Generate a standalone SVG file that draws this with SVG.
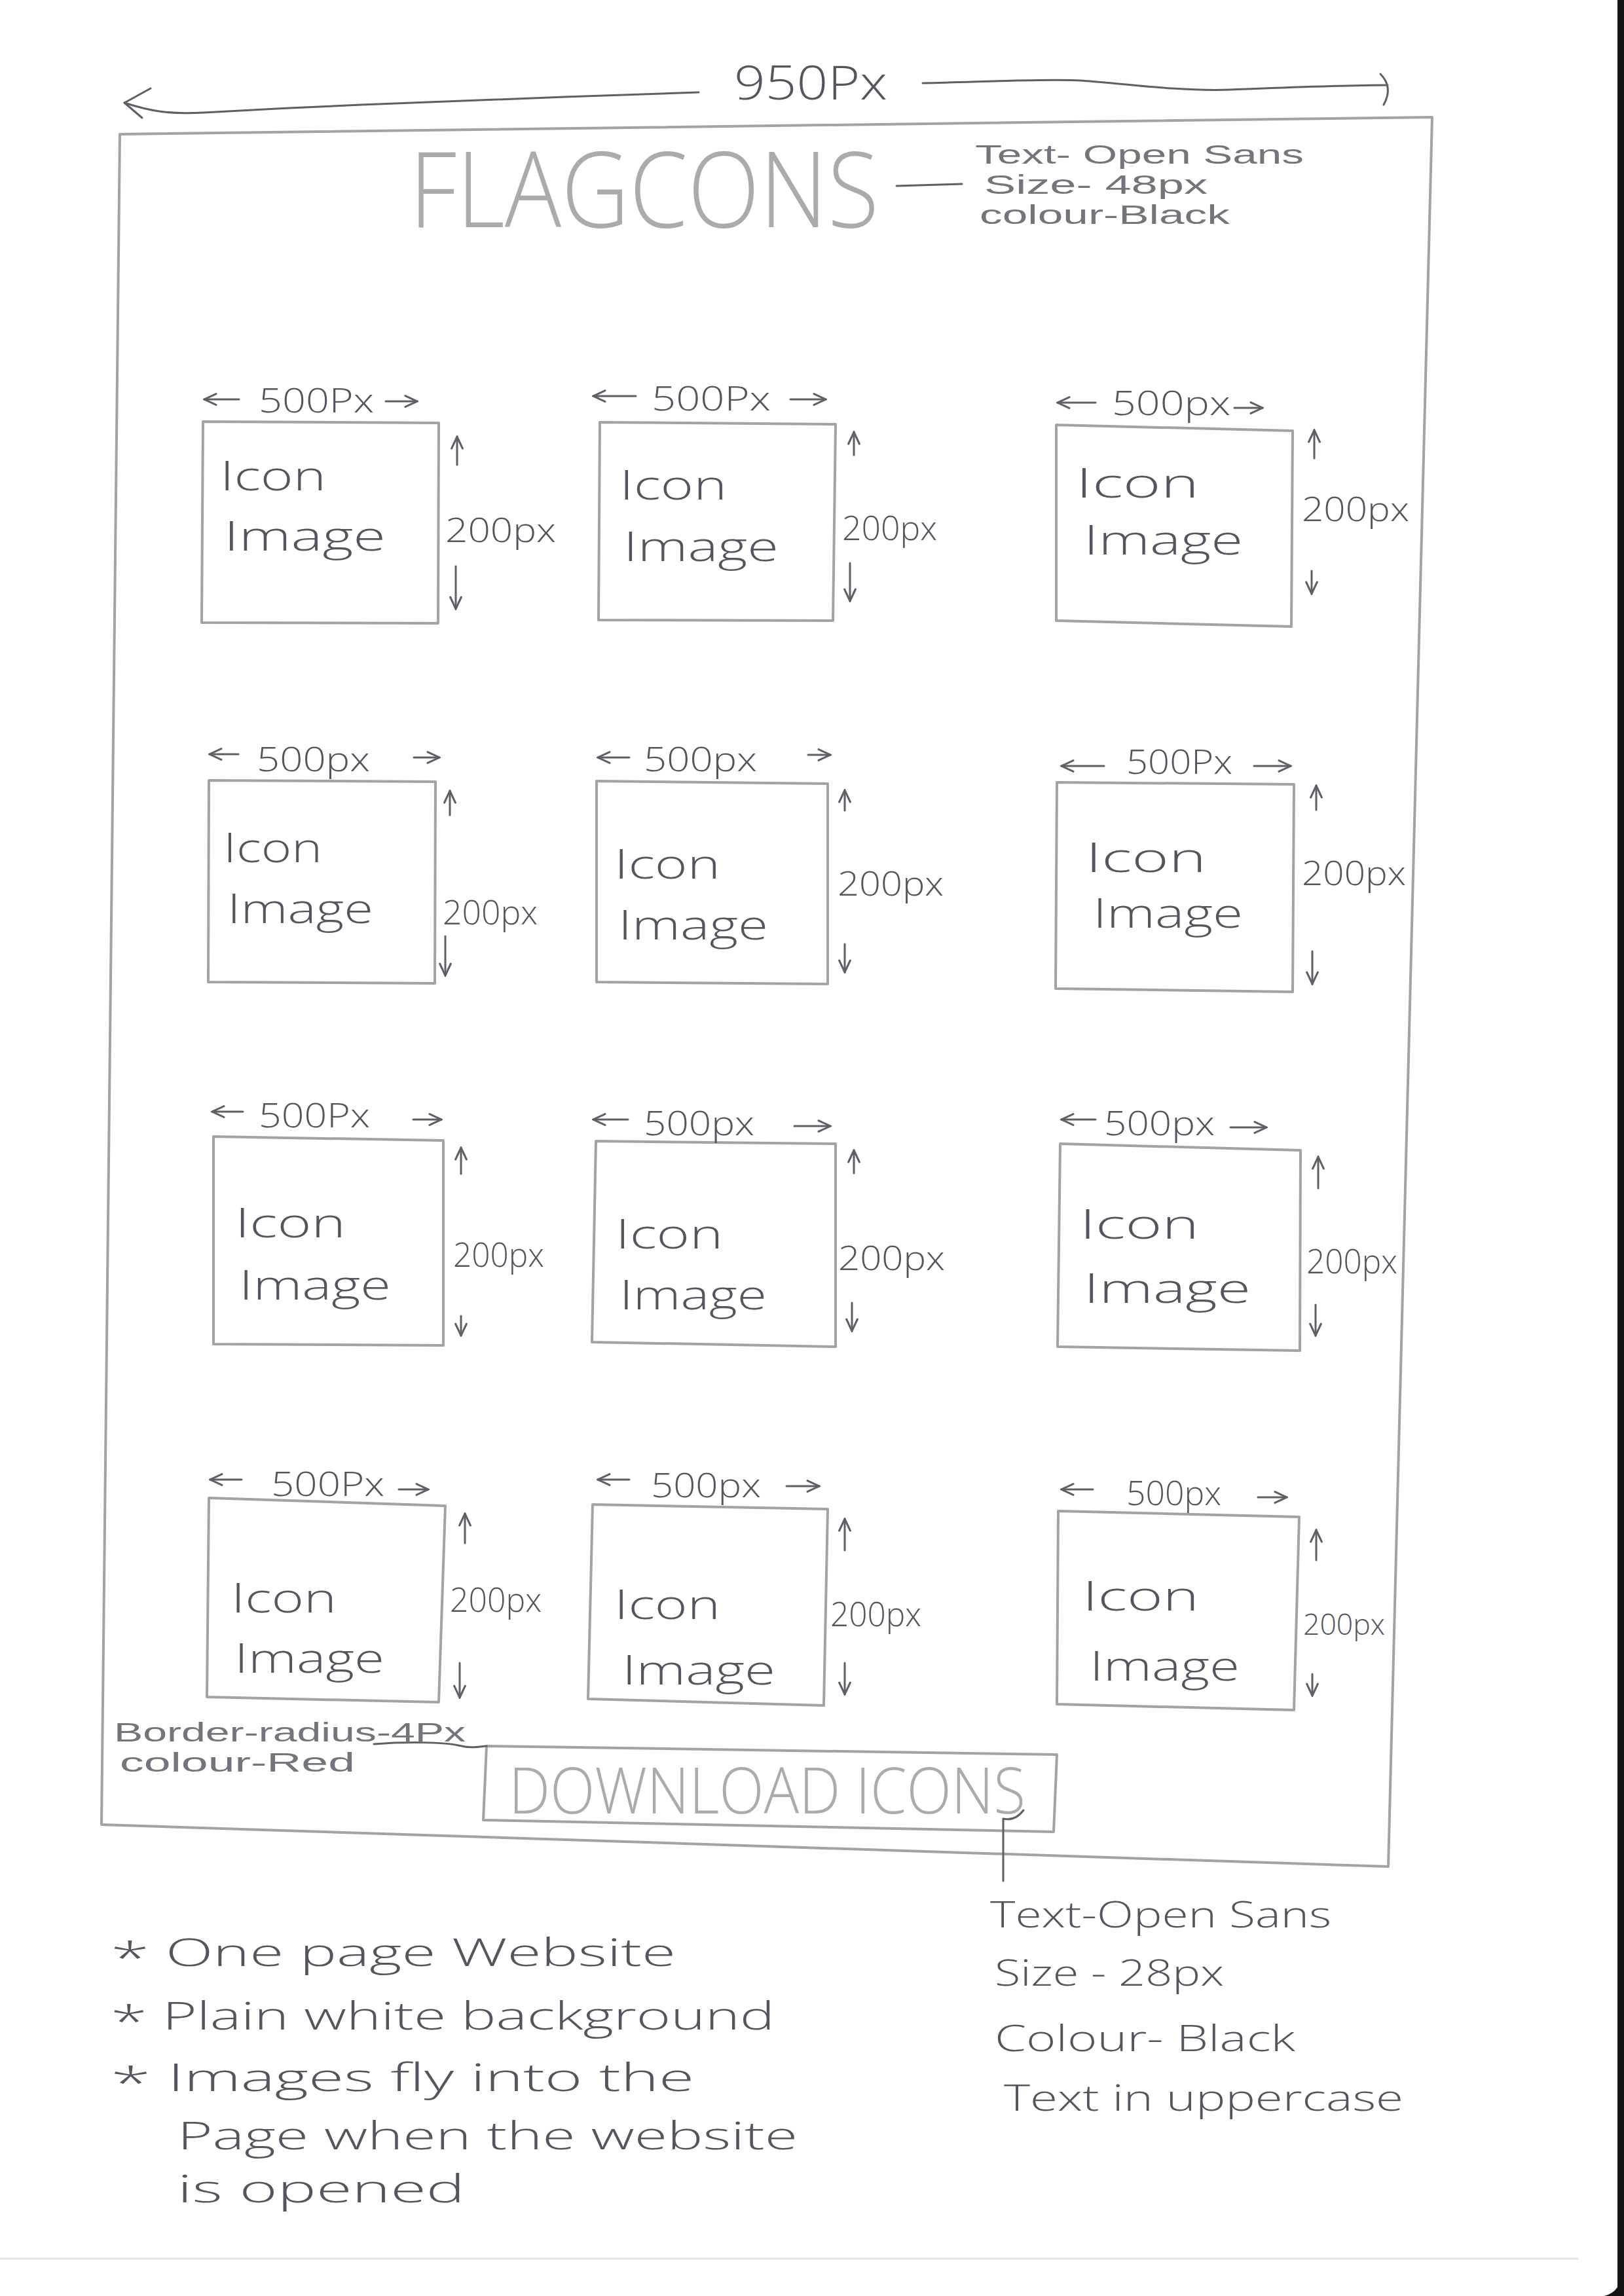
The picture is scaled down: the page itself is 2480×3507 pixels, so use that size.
<svg xmlns="http://www.w3.org/2000/svg" width="2480" height="3507" viewBox="0 0 2480 3507">
<style>
.t{font-family:"Open Sans","Liberation Sans",sans-serif;fill:#55555f;font-weight:300}
.ls{font-family:"Liberation Sans","Open Sans",sans-serif;font-weight:normal;fill:#74747c}
.big{fill:#ababab;font-weight:300}
.lbl{font-size:62px}
.dim{font-size:52px}
.note{font-size:58px}
.box{fill:none;stroke:#a3a3a3;stroke-width:4;stroke-linejoin:round}
.ln{fill:none;stroke:#5f5f68;stroke-width:3;stroke-linecap:round;stroke-linejoin:round}
.arr{marker-end:url(#ah)}
</style>
<defs>
<marker id="ah" viewBox="0 0 20 20" refX="18" refY="10" markerWidth="24" markerHeight="24" markerUnits="userSpaceOnUse" orient="auto">
<path d="M3,3 L18,10 L3,17" fill="none" stroke="#5f5f68" stroke-width="2.5" stroke-linecap="round"/>
</marker>
</defs>
<rect width="2480" height="3507" fill="#ffffff"/>
<g id="paper-edge">
<rect x="2470" y="0" width="10" height="3507" fill="#141414"/>
<path d="M2476,3470 Q2476,3500 2450,3507 L2480,3507 L2480,3470 Z" fill="#141414"/>
<line x1="0" y1="3450" x2="2410" y2="3450" stroke="#e4e4e4" stroke-width="3"/>
</g>
<g id="page-frame">
<path class="box" d="M183,205 L2187,179 L2120,2851 L155,2787 Z" stroke="#9c9c9c"/>
</g>
<g id="width-label">
<text class="t" x="1121" y="152" font-size="72" textLength="234" lengthAdjust="spacingAndGlyphs">950Px</text>
</g>
<g id="title">
<text class="t big" x="625" y="347" font-size="160" textLength="717" lengthAdjust="spacingAndGlyphs">FLAGCONS</text>
</g>
<g id="title-note">
<text class="ls" x="1489" y="250" font-size="41" textLength="502" lengthAdjust="spacingAndGlyphs">Text- Open Sans</text>
<text class="ls" x="1503" y="296" font-size="41" textLength="341" lengthAdjust="spacingAndGlyphs">Size- 48px</text>
<text class="ls" x="1496" y="342" font-size="41" textLength="382" lengthAdjust="spacingAndGlyphs">colour-Black</text>
</g>
<g id="box1">
<path class="box" d="M310,644 L670,646 L669,952 L308,951 Z"/>
<text class="t lbl" x="336" y="749" textLength="162" lengthAdjust="spacingAndGlyphs">Icon</text>
<text class="t lbl" x="342" y="841" textLength="247" lengthAdjust="spacingAndGlyphs">Image</text>
<text class="t dim" x="395" y="630" textLength="176" lengthAdjust="spacingAndGlyphs">500Px</text>
<text class="t dim" x="680" y="828" textLength="169" lengthAdjust="spacingAndGlyphs">200px</text>
</g>
<g id="box2">
<path class="box" d="M916,645 L1276,648 L1272,948 L914,947 Z"/>
<text class="t lbl" x="946" y="763" textLength="164" lengthAdjust="spacingAndGlyphs">Icon</text>
<text class="t lbl" x="952" y="857" textLength="237" lengthAdjust="spacingAndGlyphs">Image</text>
<text class="t dim" x="995" y="627" textLength="182" lengthAdjust="spacingAndGlyphs">500Px</text>
<text class="t dim" x="1286" y="825" textLength="145" lengthAdjust="spacingAndGlyphs">200px</text>
</g>
<g id="box3">
<path class="box" d="M1613,649 L1974,658 L1972,957 L1613,948 Z"/>
<text class="t lbl" x="1643" y="760" textLength="188" lengthAdjust="spacingAndGlyphs">Icon</text>
<text class="t lbl" x="1655" y="847" textLength="243" lengthAdjust="spacingAndGlyphs">Image</text>
<text class="t dim" x="1698" y="634" textLength="181" lengthAdjust="spacingAndGlyphs">500px</text>
<text class="t dim" x="1988" y="796" textLength="164" lengthAdjust="spacingAndGlyphs">200px</text>
</g>
<g id="box4">
<path class="box" d="M319,1192 L665,1194 L664,1502 L318,1500 Z"/>
<text class="t lbl" x="341" y="1317" textLength="151" lengthAdjust="spacingAndGlyphs">Icon</text>
<text class="t lbl" x="347" y="1410" textLength="223" lengthAdjust="spacingAndGlyphs">Image</text>
<text class="t dim" x="392" y="1178" textLength="173" lengthAdjust="spacingAndGlyphs">500px</text>
<text class="t dim" x="676" y="1412" textLength="145" lengthAdjust="spacingAndGlyphs">200px</text>
</g>
<g id="box5">
<path class="box" d="M911,1193 L1264,1197 L1264,1503 L911,1500 Z"/>
<text class="t lbl" x="938" y="1342" textLength="162" lengthAdjust="spacingAndGlyphs">Icon</text>
<text class="t lbl" x="944" y="1435" textLength="229" lengthAdjust="spacingAndGlyphs">Image</text>
<text class="t dim" x="983" y="1178" textLength="173" lengthAdjust="spacingAndGlyphs">500px</text>
<text class="t dim" x="1279" y="1368" textLength="162" lengthAdjust="spacingAndGlyphs">200px</text>
</g>
<g id="box6">
<path class="box" d="M1614,1195 L1976,1198 L1974,1515 L1612,1510 Z"/>
<text class="t lbl" x="1658" y="1332" textLength="184" lengthAdjust="spacingAndGlyphs">Icon</text>
<text class="t lbl" x="1669" y="1417" textLength="229" lengthAdjust="spacingAndGlyphs">Image</text>
<text class="t dim" x="1720" y="1182" textLength="162" lengthAdjust="spacingAndGlyphs">500Px</text>
<text class="t dim" x="1988" y="1352" textLength="159" lengthAdjust="spacingAndGlyphs">200px</text>
</g>
<g id="box7">
<path class="box" d="M326,1736 L677,1742 L677,2055 L326,2053 Z"/>
<text class="t lbl" x="359" y="1890" textLength="169" lengthAdjust="spacingAndGlyphs">Icon</text>
<text class="t lbl" x="365" y="1985" textLength="232" lengthAdjust="spacingAndGlyphs">Image</text>
<text class="t dim" x="395" y="1722" textLength="170" lengthAdjust="spacingAndGlyphs">500Px</text>
<text class="t dim" x="692" y="1935" textLength="139" lengthAdjust="spacingAndGlyphs">200px</text>
</g>
<g id="box8">
<path class="box" d="M910,1743 L1276,1747 L1276,2057 L904,2050 Z"/>
<text class="t lbl" x="940" y="1907" textLength="164" lengthAdjust="spacingAndGlyphs">Icon</text>
<text class="t lbl" x="946" y="2000" textLength="225" lengthAdjust="spacingAndGlyphs">Image</text>
<text class="t dim" x="983" y="1734" textLength="169" lengthAdjust="spacingAndGlyphs">500px</text>
<text class="t dim" x="1280" y="1940" textLength="163" lengthAdjust="spacingAndGlyphs">200px</text>
</g>
<g id="box9">
<path class="box" d="M1619,1747 L1986,1757 L1985,2063 L1615,2057 Z"/>
<text class="t lbl" x="1649" y="1892" textLength="182" lengthAdjust="spacingAndGlyphs">Icon</text>
<text class="t lbl" x="1655" y="1990" textLength="255" lengthAdjust="spacingAndGlyphs">Image</text>
<text class="t dim" x="1686" y="1734" textLength="169" lengthAdjust="spacingAndGlyphs">500px</text>
<text class="t dim" x="1995" y="1945" textLength="139" lengthAdjust="spacingAndGlyphs">200px</text>
</g>
<g id="box10">
<path class="box" d="M319,2288 L680,2300 L670,2600 L316,2592 Z"/>
<text class="t lbl" x="353" y="2463" textLength="161" lengthAdjust="spacingAndGlyphs">Icon</text>
<text class="t lbl" x="358" y="2555" textLength="229" lengthAdjust="spacingAndGlyphs">Image</text>
<text class="t dim" x="414" y="2285" textLength="173" lengthAdjust="spacingAndGlyphs">500Px</text>
<text class="t dim" x="687" y="2462" textLength="140" lengthAdjust="spacingAndGlyphs">200px</text>
</g>
<g id="box11">
<path class="box" d="M905,2298 L1264,2305 L1258,2605 L898,2595 Z"/>
<text class="t lbl" x="938" y="2473" textLength="162" lengthAdjust="spacingAndGlyphs">Icon</text>
<text class="t lbl" x="950" y="2573" textLength="234" lengthAdjust="spacingAndGlyphs">Image</text>
<text class="t dim" x="994" y="2287" textLength="168" lengthAdjust="spacingAndGlyphs">500px</text>
<text class="t dim" x="1268" y="2484" textLength="139" lengthAdjust="spacingAndGlyphs">200px</text>
</g>
<g id="box12">
<path class="box" d="M1616,2308 L1984,2317 L1976,2612 L1614,2603 Z"/>
<text class="t lbl" x="1653" y="2460" textLength="178" lengthAdjust="spacingAndGlyphs">Icon</text>
<text class="t lbl" x="1664" y="2567" textLength="229" lengthAdjust="spacingAndGlyphs">Image</text>
<text class="t dim" x="1720" y="2299" textLength="145" lengthAdjust="spacingAndGlyphs">500px</text>
<text class="t" x="1990" y="2497" font-size="44" textLength="125" lengthAdjust="spacingAndGlyphs">200px</text>
</g>
<g id="download-button">
<path class="box" d="M743,2667 L1614,2680 L1609,2798 L738,2780 Z" stroke="#9c9c9c"/>
<text class="t big" x="777" y="2770" font-size="98" textLength="789" lengthAdjust="spacingAndGlyphs">DOWNLOAD ICONS</text>
</g>
<g id="button-note">
<text class="ls" x="174" y="2660" font-size="41" textLength="537" lengthAdjust="spacingAndGlyphs">Border-radius-4Px</text>
<text class="ls" x="183" y="2706" font-size="41" textLength="359" lengthAdjust="spacingAndGlyphs">colour-Red</text>
</g>
<g id="button-text-note">
<text class="t" x="1512" y="2944" font-size="56" textLength="521" lengthAdjust="spacingAndGlyphs">Text-Open Sans</text>
<text class="t" x="1519" y="3033" font-size="56" textLength="350" lengthAdjust="spacingAndGlyphs">Size - 28px</text>
<text class="t" x="1519" y="3133" font-size="56" textLength="459" lengthAdjust="spacingAndGlyphs">Colour- Black</text>
<text class="t" x="1533" y="3224" font-size="56" textLength="610" lengthAdjust="spacingAndGlyphs">Text in uppercase</text>
</g>
<g id="notes">
<text class="t note" x="169" y="3003" textLength="863" lengthAdjust="spacingAndGlyphs"><tspan font-size="66" dy="12">*</tspan><tspan dy="-12"> One page Website</tspan></text>
<text class="t note" x="169" y="3100" textLength="1014" lengthAdjust="spacingAndGlyphs"><tspan font-size="66" dy="12">*</tspan><tspan dy="-12"> Plain white background</tspan></text>
<text class="t note" x="169" y="3194" textLength="891" lengthAdjust="spacingAndGlyphs"><tspan font-size="66" dy="12">*</tspan><tspan dy="-12"> Images fly into the</tspan></text>
<text class="t note" x="271" y="3283" textLength="947" lengthAdjust="spacingAndGlyphs">Page when the website</text>
<text class="t note" x="271" y="3364" textLength="439" lengthAdjust="spacingAndGlyphs">is opened</text>
</g>
<g id="connectors">
<path class="ln" d="M190,157 C230,170 260,175 311,172 S500,162 552,160 S900,146 1067,141"/>
<path class="ln" d="M230,135 L190,157 L217,180"/>
<path class="ln" d="M1409,127 C1500,125 1600,120 1650,123 S1800,140 1878,137 S2050,130 2119,130"/>
<path class="ln" d="M2108,113 Q2128,133 2113,160"/>
<path class="ln" d="M1369,284 L1469,281" stroke-width="4"/>
<path class="ln" d="M571,2664 C620,2660 680,2661 700,2666 S730,2668 743,2667"/>
<path class="ln" d="M1563,2765 Q1550,2782 1532,2778 L1532,2873"/>
<path class="ln arr" d="M365,610 L312,610"/><path class="ln arr" d="M589,613 L637,613"/><path class="ln arr" d="M698,710 L698,667"/><path class="ln arr" d="M696,865 L696,930"/>
<path class="ln arr" d="M971,605 L906,605"/><path class="ln arr" d="M1207,610 L1261,610"/><path class="ln arr" d="M1304,695 L1304,660"/><path class="ln arr" d="M1298,860 L1298,918"/>
<path class="ln arr" d="M1673,615 L1615,615"/><path class="ln arr" d="M1885,623 L1928,623"/><path class="ln arr" d="M2007,700 L2007,657"/><path class="ln arr" d="M2003,872 L2003,907"/>
<path class="ln arr" d="M364,1152 L320,1152"/><path class="ln arr" d="M632,1157 L671,1157"/><path class="ln arr" d="M687,1245 L687,1208"/><path class="ln arr" d="M680,1430 L680,1490"/>
<path class="ln arr" d="M961,1157 L913,1157"/><path class="ln arr" d="M1234,1153 L1268,1153"/><path class="ln arr" d="M1290,1238 L1290,1207"/><path class="ln arr" d="M1290,1442 L1290,1485"/>
<path class="ln arr" d="M1686,1170 L1621,1170"/><path class="ln arr" d="M1915,1170 L1971,1170"/><path class="ln arr" d="M2010,1237 L2010,1200"/><path class="ln arr" d="M2004,1453 L2004,1503"/>
<path class="ln arr" d="M371,1698 L324,1698"/><path class="ln arr" d="M631,1710 L674,1710"/><path class="ln arr" d="M704,1793 L704,1753"/><path class="ln arr" d="M704,2010 L704,2040"/>
<path class="ln arr" d="M959,1710 L906,1710"/><path class="ln arr" d="M1213,1720 L1268,1720"/><path class="ln arr" d="M1304,1792 L1304,1757"/><path class="ln arr" d="M1301,1990 L1301,2033"/>
<path class="ln arr" d="M1673,1710 L1621,1710"/><path class="ln arr" d="M1879,1722 L1934,1722"/><path class="ln arr" d="M2013,1815 L2013,1767"/><path class="ln arr" d="M2009,1993 L2009,2040"/>
<path class="ln arr" d="M369,2260 L321,2260"/><path class="ln arr" d="M609,2275 L654,2275"/><path class="ln arr" d="M710,2357 L710,2312"/><path class="ln arr" d="M702,2540 L702,2593"/>
<path class="ln arr" d="M961,2260 L913,2260"/><path class="ln arr" d="M1201,2270 L1251,2270"/><path class="ln arr" d="M1290,2368 L1290,2320"/><path class="ln arr" d="M1290,2540 L1290,2588"/>
<path class="ln arr" d="M1669,2275 L1621,2275"/><path class="ln arr" d="M1921,2287 L1965,2287"/><path class="ln arr" d="M2010,2383 L2010,2337"/><path class="ln arr" d="M2004,2557 L2004,2590"/>
</g>
</svg>
